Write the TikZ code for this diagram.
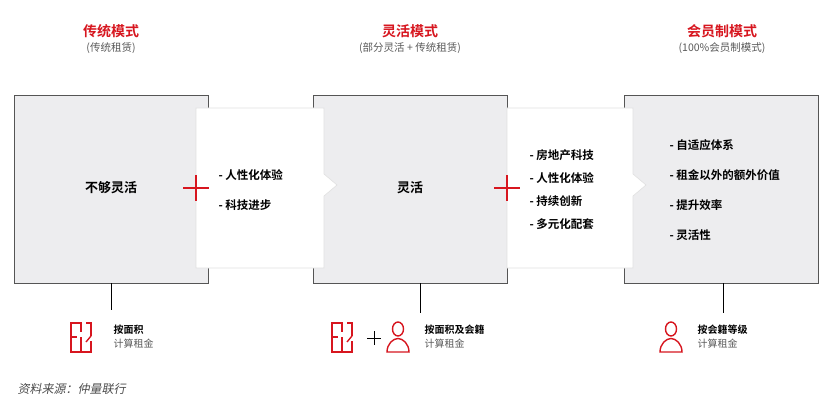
\documentclass[tikz,border=0pt]{standalone}
\usepackage{fontspec}
\setmainfont{Noto Sans CJK SC}
\newfontfamily\cjkb{Noto Sans CJK SC Bold}
\newfontfamily\cjksl[FakeSlant=0.2]{Noto Sans CJK SC}
\definecolor{myred}{HTML}{D7161F}
\definecolor{boxgray}{HTML}{EDEDEF}
\definecolor{edge}{HTML}{555555}
\begin{document}
\begin{tikzpicture}[x=1pt,y=-1pt,
 gbox/.style={fill=boxgray,draw=edge,line width=0.9pt},
 wbox/.style={fill=white,draw=black!12,line width=0.6pt},
 ttl/.style={text=myred,font=\cjkb\fontsize{14}{16}\selectfont},
 sub/.style={text=black!65,font=\fontsize{10.5}{12}\selectfont},
 item/.style={anchor=west,font=\cjkb\fontsize{11.5}{13}\selectfont},
 big/.style={font=\cjkb\fontsize{13}{15}\selectfont},
 lbl/.style={anchor=west,font=\cjkb\fontsize{10}{11}\selectfont},
 lbl2/.style={anchor=west,text=black!65,font=\fontsize{10}{11}\selectfont},
 plus/.style={myred,line width=2.2pt},
 ic/.style={myred,line width=1.4pt}]
\useasboundingbox[fill=white] (0,0) rectangle (833,417);
% grey boxes
\draw[gbox] (14,95) rectangle (208,283);
\draw[gbox] (313,95) rectangle (507,283);
\draw[gbox] (624,95) rectangle (818,283);
% white arrow boxes
\draw[wbox] (196,108) -- (324,108) -- (324,174) -- (337,185) -- (324,196) -- (324,268) -- (196,268) -- cycle;
\draw[wbox] (507,108) -- (633,108) -- (633,174) -- (646,185) -- (633,196) -- (633,268) -- (507,268) -- cycle;
% plus signs
\draw[plus] (183,188) -- (209,188) (196,175) -- (196,201);
\draw[plus] (494,188) -- (520,188) (507,175) -- (507,201);
% titles
\node[ttl] (t1) at (111,31) {传统模式};
\node[sub] (s1) at (111,48) {(传统租赁)};
\node[ttl] (t2) at (410,31) {灵活模式};
\node[sub] (s2) at (410,48) {(部分灵活 + 传统租赁)};
\node[ttl] (t3) at (722,31) {会员制模式};
\node[sub] (s3) at (722,48) {(100\%会员制模式)};
% box contents
\node[big] (b1) at (111,188) {不够灵活};
\node[big] (b2) at (410,188) {灵活};
\node[item] at (215,175) {- 人性化体验};
\node[item] at (215,205) {- 科技进步};
\node[item] at (526,155) {- 房地产科技};
\node[item] at (526,178) {- 人性化体验};
\node[item] at (526,201) {- 持续创新};
\node[item] at (526,224) {- 多元化配套};
\node[item] at (666,145) {- 自适应体系};
\node[item] at (666,175) {- 租金以外的额外价值};
\node[item] at (666,205) {- 提升效率};
\node[item] at (666,235) {- 灵活性};
% stems
\coordinate (e1) at (111,310); \coordinate (e2) at (420,313); \coordinate (e3) at (723,313);
\draw[line width=1pt] (111,283) -- (e1);
\draw[line width=1pt] (420,283) -- (e2);
\draw[line width=1pt] (723,283) -- (e3);
% floor plan icons
\foreach \x in {71,332}{
 \draw[ic] (\x+11,323) -- (\x,323) -- (\x,352) -- (\x+20,352) -- (\x+20,341);
 \draw[ic] (\x+20,336) -- (\x+20,323) -- (\x+15,323);
 \draw[ic] (\x,337) -- (\x+6,337);
 \draw[ic] (\x+10,337) -- (\x+10,352);
 \draw[ic] (\x+10,323) -- (\x+10,332);
 \draw[ic] (\x+20,336) -- (\x+15,342);
}
% person icons
\foreach \x in {398,671}{
 \draw[ic] (\x,329) ellipse (5.5 and 7);
 \draw[ic] (\x-11,352) -- (\x+11,352) .. controls (\x+11,344) and (\x+5,338.5) .. (\x,338.5) .. controls (\x-5,338.5) and (\x-11,344) .. (\x-11,352) -- cycle;
}
\draw[line width=0.9pt] (367,338) -- (381,338) (374,331) -- (374,345);
\node[lbl] (l1) at (110,330) {按面积};
\node[lbl2] at (110,344) {计算租金};
\node[lbl] (l2) at (421,330) {按面积及会籍};
\node[lbl2] at (421,344) {计算租金};
\node[lbl] (l3) at (694,330) {按会籍等级};
\node[lbl2] at (694,344) {计算租金};
\node[anchor=west,text=black!70,font=\cjksl\fontsize{12}{14}\selectfont] at (14,389) {资料来源：仲量联行};
\end{tikzpicture}
\end{document}
